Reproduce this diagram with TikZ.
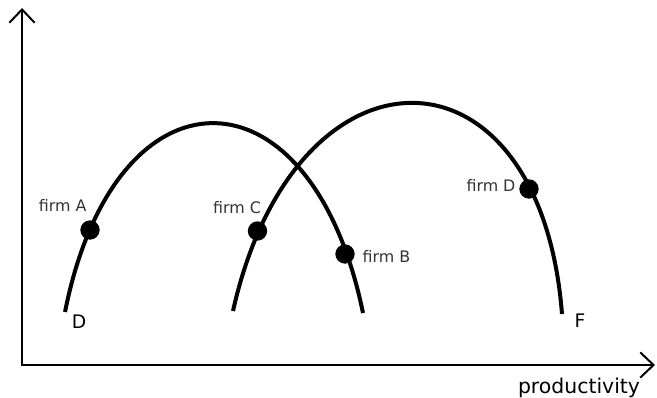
\documentclass[tikz,border=0pt]{standalone}
\usepackage{fontspec}
\setmainfont{DejaVu Sans}
\usetikzlibrary{arrows.meta,positioning}
\definecolor{txtgray}{RGB}{51,51,51}

\begin{document}
\begin{tikzpicture}[x=0.75pt,y=-0.75pt,
  axis/.style={line width=1.5pt,
    {Straight Barb[length=10pt,width=19pt,line width=1.5pt]}-{Straight Barb[length=10pt,width=19pt,line width=1.5pt]}},
  arch/.style={line width=3pt},
  firm/.style={circle,fill=black,inner sep=0pt,minimum size=14.5pt},
  lbl/.style={font=\fontsize{11.9}{13}\selectfont,text=txtgray,inner sep=1pt},
  endlbl/.style={font=\fontsize{14}{16}\selectfont,inner sep=1pt}]
  \useasboundingbox (0,0) rectangle (657,398);
  % axes
  \coordinate (ytip) at (22,8);
  \coordinate (xtip) at (655,365);
  \draw[axis] (ytip) |- (xtip);
  \node[font=\fontsize{15.3}{17}\selectfont,inner sep=0pt,anchor=base] (xlbl) at (579,394) {productivity};
  % distribution D
  \coordinate (d0) at (65,312);
  \coordinate (d1) at (363,313);
  \draw[arch] (d0) .. controls (115,60) and (311,60) .. (d1);
  \node[endlbl] (lD) at (79,322) {D};
  % distribution F
  \coordinate (f0) at (233,311);
  \coordinate (f1) at (562,314);
  \draw[arch] (f0) .. controls (295,33) and (540,33) .. (f1);
  \node[endlbl] (lF) at (580,321) {F};
  % firms
  \node[firm] (fA) at (90,230) {};
  \node[firm] (fB) at (345,254) {};
  \node[firm] (fC) at (257.5,231) {};
  \node[firm] (fD) at (529,189) {};
  \node[lbl, above left=5.5pt and 1.5pt of fA.north] (lA) {firm A};
  \node[lbl, above left=4.3pt and -3.8pt of fC.north] (lC) {firm C};
  \node[lbl, right=4.5pt of fB, yshift=-1.9pt] (lB) {firm B};
  \node[lbl, left=1.5pt of fD, yshift=3pt] (lDf) {firm D};
\end{tikzpicture}
\end{document}
